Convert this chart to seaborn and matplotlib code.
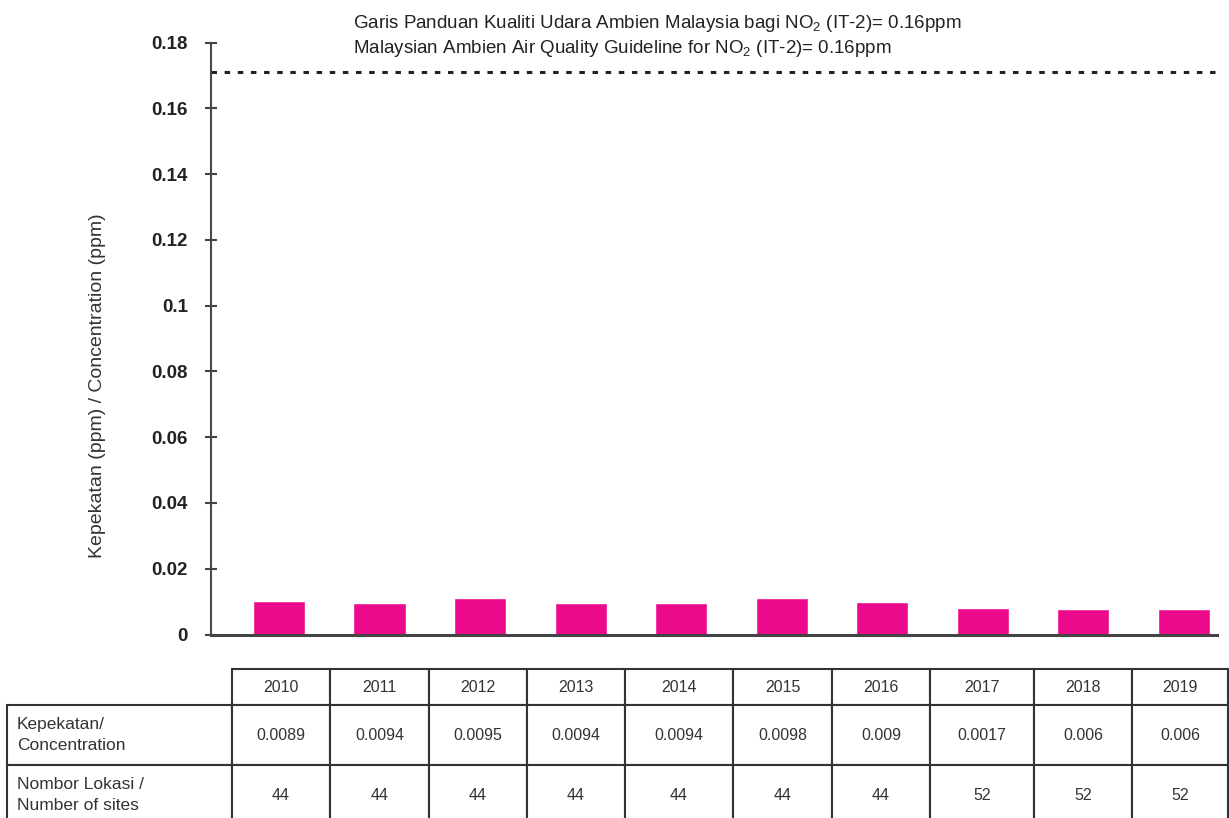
import matplotlib
matplotlib.use('Agg')
import matplotlib.pyplot as plt
from matplotlib.table import Table
import seaborn as sns
import pandas as pd

# data
years = ['2010', '2011', '2012', '2013', '2014', '2015', '2016', '2017', '2018', '2019']
bar_heights = [0.0102, 0.0096, 0.0111, 0.0096, 0.0096, 0.0111, 0.0099, 0.0081, 0.0078, 0.0078]
table_conc = ['0.0089', '0.0094', '0.0095', '0.0094', '0.0094', '0.0098', '0.009', '0.0017', '0.006', '0.006']
table_sites = ['44', '44', '44', '44', '44', '44', '44', '52', '52', '52']
row_labels = ['Kepekatan/\nConcentration', 'Nombor Lokasi /\nNumber of sites']
guideline_level = 0.171
y_ticks = [0, 0.02, 0.04, 0.06, 0.08, 0.1, 0.12, 0.14, 0.16, 0.18]
y_tick_labels = ['0', '0.02', '0.04', '0.06', '0.08', '0.1', '0.12', '0.14', '0.16', '0.18']
note_ms = 'Garis Panduan Kualiti Udara Ambien Malaysia bagi NO$_2$ (IT-2)= 0.16ppm'
note_en = 'Malaysian Ambien Air Quality Guideline for NO$_2$ (IT-2)= 0.16ppm'

sns.set_style('white')
plt.rcParams['font.family'] = ['Liberation Sans', 'DejaVu Sans']
plt.rcParams['mathtext.default'] = 'regular'
narrow = ['Liberation Sans Narrow', 'Liberation Sans', 'DejaVu Sans']

W, H = 1229, 818
fig = plt.figure(figsize=(W / 100, H / 100), dpi=100)
ax = fig.add_axes([211 / W, (H - 634.5) / H, (1217 - 211) / W, (634.5 - 42.7) / H])

df = pd.DataFrame({'year': years, 'conc': bar_heights})
sns.barplot(data=df, x='year', y='conc', color='#EC0A8C', saturation=1, width=0.52, ax=ax)

ax.set_xlim(-0.677, 9.33)
ax.set_ylim(0, 0.18)
ax.set_xticks([])
ax.set_xlabel('')
ax.set_yticks(y_ticks, y_tick_labels)
ax.tick_params(axis='y', left=True, direction='inout', length=8, width=1.5, color='#444',
               pad=12.5, labelsize=13.5, labelcolor='#222')
for lbl in ax.get_yticklabels():
    lbl.set_fontweight('bold')
    lbl.set_family(narrow)

ax.set_ylabel('Kepekatan (ppm) / Concentration (ppm)', fontsize=14, color='#333', va='center')
ax.yaxis.set_label_coords(-0.1133, 0.42)

for s in ['top', 'right']:
    ax.spines[s].set_visible(False)
ax.spines['left'].set_linewidth(1.5)
ax.spines['left'].set_color('#4a4a4a')
ax.spines['bottom'].set_linewidth(2.2)
ax.spines['bottom'].set_color('#444')

# guideline
ax.axhline(guideline_level, color='#222', lw=2.2, linestyle=(0, (1.8, 2.5)))
ax.text(0.1412, 1.0249, note_ms, transform=ax.transAxes, fontsize=13.5, color='#222',
        family=narrow, va='baseline', ha='left')
ax.text(0.1412, 0.9827, note_en, transform=ax.transAxes, fontsize=13.5, color='#222',
        family=narrow, va='baseline', ha='left')

# data table under the chart
tab_ax = fig.add_axes([0, 0, 1, 1])
tab_ax.axis('off')
bounds = [7, 232, 330, 429, 527, 625, 733, 832, 930, 1034, 1132, 1228]
widths = [(b - a) / W for a, b in zip(bounds[:-1], bounds[1:])]
heights = [36 / H, 60 / H, 60 / H]

tbl = Table(tab_ax, bbox=[7 / W, (H - 825) / H, (1228 - 7) / W, (825 - 669) / H])
tbl.auto_set_font_size(False)
for j, yr in enumerate(years):
    tbl.add_cell(0, j + 1, width=widths[j + 1], height=heights[0], text=yr, loc='center')
for i, (lab, vals) in enumerate(zip(row_labels, [table_conc, table_sites])):
    cell = tbl.add_cell(i + 1, 0, width=widths[0], height=heights[i + 1], text=lab, loc='left')
    cell.PAD = 10 / 225
    for j, v in enumerate(vals):
        tbl.add_cell(i + 1, j + 1, width=widths[j + 1], height=heights[i + 1], text=v, loc='center')

for (r, c), cell in tbl.get_celld().items():
    cell.set_linewidth(1.5)
    cell.set_edgecolor('#333')
    txt = cell.get_text()
    txt.set_color('#333')
    if c == 0:
        txt.set_fontsize(12.5)
        txt.set_linespacing(1.45)
    else:
        txt.set_fontsize(11.5)
        txt.set_family(narrow)
tab_ax.add_table(tbl)

fig.savefig('out.png', dpi=100)
